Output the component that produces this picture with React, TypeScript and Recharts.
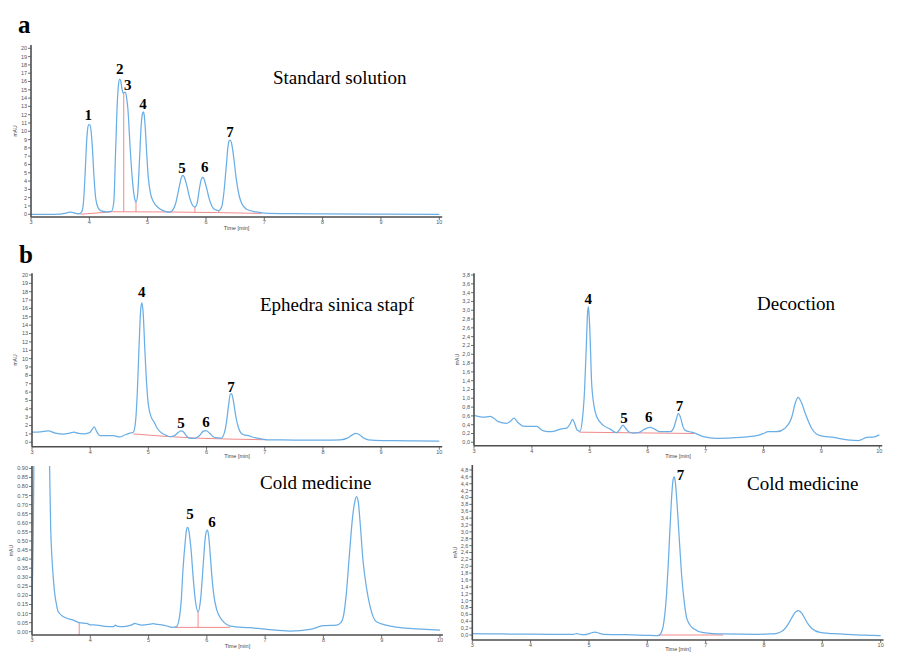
import React from 'react';
import { LineChart, Line, XAxis, YAxis, ReferenceLine, ReferenceDot } from 'recharts';

type P = [number, number];
type Drop = [number, number, number];
type PeakLabel = { t: number; v: number; text: string };

// ---------- shared axis data ----------
const xTicks = [3, 4, 5, 6, 7, 8, 9, 10];
const ticksStd = [0, 1, 2, 3, 4, 5, 6, 7, 8, 9, 10, 11, 12, 13, 14, 15, 16, 17, 18, 19, 20];
const ticksDec = [0, 0.2, 0.4, 0.6, 0.8, 1.0, 1.2, 1.4, 1.6, 1.8, 2.0, 2.2, 2.4, 2.6, 2.8, 3.0, 3.2, 3.4, 3.6, 3.8];
const ticksColdL = [0, 0.05, 0.1, 0.15, 0.2, 0.25, 0.3, 0.35, 0.4, 0.45, 0.5, 0.55, 0.6, 0.65, 0.7, 0.75, 0.8, 0.85, 0.9];
const ticksColdR = [0, 0.2, 0.4, 0.6, 0.8, 1.0, 1.2, 1.4, 1.6, 1.8, 2.0, 2.2, 2.4, 2.6, 2.8, 3.0, 3.2, 3.4, 3.6, 3.8, 4.0, 4.2, 4.4, 4.6, 4.8];

// ---------- (a) Standard solution ----------
const stdTrace: P[] = [
  [3.0, 0], [3.3, 0], [3.5, 0.02], [3.6, 0.15], [3.67, 0.25], [3.75, 0.15], [3.82, 0.05], [3.87, 0.3],
  [3.9, 1.5], [3.93, 5.2], [3.95, 8.3], [3.97, 10.2], [3.99, 10.8], [4.01, 10.75], [4.03, 10.0], [4.05, 8.3],
  [4.08, 4.5], [4.11, 1.9], [4.15, 0.8], [4.2, 0.4], [4.3, 0.3], [4.38, 0.35], [4.42, 1.5], [4.45, 7.5],
  [4.48, 13.5], [4.5, 15.6], [4.52, 16.3], [4.54, 16.0], [4.56, 15.1], [4.58, 14.6], [4.6, 14.7], [4.62, 14.7],
  [4.64, 14.0], [4.66, 12.8], [4.7, 8], [4.74, 4], [4.78, 1.8], [4.8, 1.45], [4.83, 2.5], [4.86, 6.5],
  [4.89, 10.8], [4.91, 12.1], [4.925, 12.35], [4.94, 12.0], [4.96, 10.3], [4.98, 7.8], [5.01, 4.5], [5.05, 2.5],
  [5.1, 1.5], [5.15, 1.0], [5.22, 0.6], [5.3, 0.35], [5.38, 0.25], [5.43, 0.5], [5.48, 1.3], [5.53, 2.9],
  [5.58, 4.45], [5.6, 4.7], [5.62, 4.6], [5.64, 4.25], [5.68, 3.2], [5.72, 2.0], [5.76, 1.2], [5.81, 0.85],
  [5.85, 1.4], [5.89, 3.2], [5.92, 4.2], [5.94, 4.45], [5.96, 4.35], [5.98, 3.95], [6.02, 2.9], [6.05, 2.0],
  [6.1, 1.0], [6.16, 0.55], [6.22, 0.45], [6.27, 0.9], [6.31, 2.8], [6.35, 6.0], [6.38, 8.3], [6.4, 8.9],
  [6.42, 8.9], [6.44, 8.5], [6.48, 6.6], [6.52, 4.2], [6.57, 2.2], [6.62, 1.2], [6.68, 0.7], [6.75, 0.45],
  [6.85, 0.3], [7.0, 0.15], [7.5, 0.08], [8.0, 0.05], [9.0, 0.02], [10.0, 0.0],
];
const stdBaseline: P[][] = [[[3.85, 0], [4.4, 0.3], [5.3, 0.28], [6.2, 0.2], [6.95, 0.1]]];
const stdDrops: Drop[] = [[4.59, 0.3, 14.6], [4.8, 0.28, 1.45], [5.81, 0.22, 0.85], [6.22, 0.2, 0.45]];
const stdLabels: PeakLabel[] = [
  { t: 3.98, v: 11.96, text: '1' }, { t: 4.52, v: 17.5, text: '2' }, { t: 4.66, v: 15.6, text: '3' },
  { t: 4.92, v: 13.3, text: '4' }, { t: 5.59, v: 5.6, text: '5' }, { t: 5.98, v: 5.7, text: '6' },
  { t: 6.41, v: 9.9, text: '7' },
];

// ---------- (b) Ephedra sinica stapf ----------
const ephTrace: P[] = [
  [3.0, 1.2], [3.15, 1.25], [3.28, 1.35], [3.4, 1.1], [3.54, 0.98], [3.65, 1.1], [3.72, 1.2], [3.8, 1.05],
  [3.88, 1.0], [3.99, 1.15], [4.03, 1.5], [4.07, 1.85], [4.11, 1.3], [4.17, 0.8], [4.3, 0.8], [4.4, 0.78],
  [4.51, 0.63], [4.6, 0.9], [4.68, 1.1], [4.74, 1.2], [4.78, 2.5], [4.81, 6], [4.84, 11.5], [4.87, 16],
  [4.89, 16.65], [4.91, 15.5], [4.94, 11], [4.97, 7], [5.0, 4.5], [5.05, 3.0], [5.1, 2.4], [5.15, 1.7],
  [5.2, 1.27], [5.3, 0.85], [5.38, 0.66], [5.45, 0.8], [5.5, 1.1], [5.56, 1.35], [5.6, 1.25], [5.65, 0.8],
  [5.7, 0.5], [5.8, 0.48], [5.88, 0.8], [5.94, 1.3], [5.99, 1.4], [6.05, 1.1], [6.13, 0.6], [6.25, 0.5],
  [6.3, 1.0], [6.34, 2.3], [6.38, 4.5], [6.41, 5.8], [6.43, 5.8], [6.46, 5.0], [6.5, 3.2], [6.55, 1.7],
  [6.6, 1.05], [6.66, 0.85], [6.72, 0.8], [6.8, 0.6], [6.87, 0.5], [7.04, 0.3], [7.5, 0.27], [8.0, 0.25],
  [8.3, 0.3], [8.42, 0.5], [8.5, 0.85], [8.56, 1.07], [8.63, 0.9], [8.7, 0.5], [8.78, 0.3], [9.03, 0.2],
  [9.5, 0.17], [10.0, 0.15],
];
const ephBaseline: P[][] = [[[4.74, 1.0], [5.2, 0.75], [5.8, 0.5], [6.4, 0.38], [7.04, 0.3]]];
const ephDrops: Drop[] = [];
const ephLabels: PeakLabel[] = [
  { t: 4.885, v: 17.96, text: '4' }, { t: 5.56, v: 2.28, text: '5' }, { t: 5.99, v: 2.4, text: '6' },
  { t: 6.42, v: 6.66, text: '7' },
];

// ---------- (b) Decoction ----------
const decTrace: P[] = [
  [3.0, 0.61], [3.16, 0.57], [3.28, 0.59], [3.42, 0.47], [3.56, 0.43], [3.63, 0.48], [3.69, 0.55], [3.76, 0.45],
  [3.85, 0.37], [3.97, 0.36], [4.08, 0.36], [4.2, 0.26], [4.34, 0.24], [4.49, 0.3], [4.6, 0.32], [4.66, 0.42],
  [4.7, 0.52], [4.74, 0.42], [4.78, 0.28], [4.83, 0.25], [4.87, 0.5], [4.91, 1.2], [4.94, 2.2], [4.96, 2.9],
  [4.975, 3.08], [4.99, 2.85], [5.01, 2.2], [5.03, 1.4], [5.07, 0.85], [5.12, 0.58], [5.23, 0.39], [5.35, 0.3],
  [5.46, 0.22], [5.52, 0.3], [5.57, 0.39], [5.62, 0.32], [5.67, 0.24], [5.75, 0.21], [5.84, 0.22], [5.95, 0.3],
  [6.04, 0.34], [6.12, 0.3], [6.21, 0.24], [6.39, 0.24], [6.44, 0.3], [6.49, 0.5], [6.53, 0.66], [6.57, 0.55],
  [6.61, 0.35], [6.64, 0.28], [6.72, 0.24], [6.79, 0.22], [6.96, 0.13], [7.19, 0.09], [7.59, 0.11], [7.88, 0.15],
  [8.0, 0.2], [8.08, 0.24], [8.23, 0.24], [8.37, 0.32], [8.49, 0.58], [8.55, 0.9], [8.6, 1.02], [8.65, 0.92],
  [8.72, 0.66], [8.83, 0.32], [8.98, 0.15], [9.21, 0.11], [9.49, 0.05], [9.64, 0.04], [9.78, 0.11], [9.9, 0.12],
  [10.0, 0.17],
];
const decBaseline: P[][] = [[[4.82, 0.23], [6.8, 0.2]]];
const decDrops: Drop[] = [];
const decLabels: PeakLabel[] = [
  { t: 4.974, v: 3.25, text: '4' }, { t: 5.59, v: 0.56, text: '5' }, { t: 6.02, v: 0.58, text: '6' },
  { t: 6.55, v: 0.83, text: '7' },
];

// ---------- Cold medicine (left) ----------
const coldLTrace: P[] = [
  [3.0, 0.12], [3.02, 0.5], [3.04, 1.2], [3.15, 3], [3.25, 2], [3.29, 1.2], [3.305, 0.85], [3.32, 0.58],
  [3.34, 0.42], [3.36, 0.32], [3.39, 0.21], [3.42, 0.15], [3.45, 0.11], [3.54, 0.083], [3.71, 0.064], [3.81, 0.05],
  [3.94, 0.046], [4.0, 0.038], [4.11, 0.037], [4.25, 0.03], [4.4, 0.028], [4.43, 0.037], [4.47, 0.03], [4.57, 0.028],
  [4.7, 0.036], [4.77, 0.046], [4.82, 0.04], [4.88, 0.037], [5.0, 0.04], [5.08, 0.044], [5.15, 0.04], [5.25, 0.037],
  [5.3, 0.033], [5.4, 0.024], [5.48, 0.028], [5.53, 0.08], [5.56, 0.17], [5.59, 0.34], [5.63, 0.5], [5.65, 0.56],
  [5.67, 0.575], [5.69, 0.56], [5.71, 0.51], [5.73, 0.45], [5.76, 0.32], [5.8, 0.18], [5.85, 0.11], [5.89, 0.17],
  [5.94, 0.38], [5.97, 0.51], [5.99, 0.55], [6.01, 0.56], [6.03, 0.53], [6.05, 0.46], [6.08, 0.33], [6.12, 0.2],
  [6.17, 0.12], [6.22, 0.083], [6.3, 0.05], [6.4, 0.031], [6.74, 0.022], [7.03, 0.013], [7.43, 0.004], [7.77, 0.013],
  [8.0, 0.033], [8.23, 0.037], [8.3, 0.05], [8.34, 0.08], [8.39, 0.2], [8.44, 0.4], [8.5, 0.63], [8.54, 0.72],
  [8.57, 0.744], [8.6, 0.71], [8.63, 0.6], [8.68, 0.39], [8.74, 0.24], [8.8, 0.14], [8.91, 0.055], [9.2, 0.028],
  [9.48, 0.018], [10.0, 0.009],
];
const coldLBaseline: P[][] = [[[5.45, 0.024], [6.4, 0.024]]];
const coldLDrops: Drop[] = [[3.81, -0.018, 0.05], [5.85, 0.024, 0.11]];
const coldLLabels: PeakLabel[] = [{ t: 5.71, v: 0.648, text: '5' }, { t: 6.09, v: 0.606, text: '6' }];

// ---------- Cold medicine (right) ----------
const coldRTrace: P[] = [
  [3.0, 0.04], [3.5, 0.03], [4.0, 0.025], [4.5, 0.02], [4.73, 0.02], [4.79, 0.04], [4.85, 0.02], [4.92, 0.01],
  [5.02, 0.05], [5.1, 0.087], [5.18, 0.05], [5.25, 0.02], [5.65, 0.01], [5.99, -0.01], [6.19, -0.02], [6.24, 0.08],
  [6.27, 0.24], [6.3, 0.6], [6.33, 1.2], [6.36, 2.1], [6.39, 3.15], [6.42, 4.1], [6.44, 4.5], [6.46, 4.6],
  [6.48, 4.45], [6.5, 4.05], [6.52, 3.55], [6.555, 2.6], [6.59, 1.7], [6.63, 1.0], [6.67, 0.53], [6.72, 0.32],
  [6.79, 0.19], [6.96, 0.07], [7.3, 0.03], [7.87, 0.02], [8.1, 0.03], [8.22, 0.05], [8.3, 0.1], [8.36, 0.19],
  [8.42, 0.33], [8.47, 0.48], [8.53, 0.65], [8.59, 0.71], [8.65, 0.63], [8.7, 0.48], [8.76, 0.31], [8.82, 0.19],
  [8.96, 0.08], [9.3, 0.03], [9.7, 0.0], [10.0, -0.02],
];
const coldRBaseline: P[][] = [[[6.19, 0], [7.3, 0]]];
const coldRDrops: Drop[] = [];
const coldRLabels: PeakLabel[] = [{ t: 6.57, v: 4.66, text: '7' }];

// ---------- styling ----------
const BLUE = '#6aaee6';
const RED = '#f28a8a';
const AXIS = '#4d4d4d';
const TICK_FONT = 'Liberation Sans, Arial, sans-serif';
const SERIF = 'Liberation Serif, Times New Roman, serif';

const rows = (pts: P[]) => pts.map(([t, v]) => ({ t, v }));

type ChromProps = {
  left: number; top: number; width: number; height: number;
  margin: { top: number; right: number; bottom: number; left: number };
  yWidth: number; xHeight: number; yDomain: [number, number];
  yTicks: number[]; yFmt: (v: number) => string; yLabelX: number;
  trace: P[]; baselines: P[][]; drops: Drop[]; labels: PeakLabel[];
};

function Chrom(p: ChromProps) {
  const tick = { fontSize: 5.5, fill: '#555', fontFamily: TICK_FONT };
  return (
    <div style={{ position: 'absolute', left: p.left, top: p.top, width: p.width, height: p.height }}>
      <LineChart width={p.width} height={p.height} margin={p.margin} data={rows(p.trace)}>
        <XAxis
          type="number" dataKey="t" domain={[3, 10.05]} ticks={xTicks} interval={0} allowDataOverflow
          height={p.xHeight} tickSize={3} tickMargin={0}
          axisLine={{ stroke: AXIS, strokeWidth: 1.6 }} tickLine={{ stroke: AXIS, strokeWidth: 0.8 }} tick={tick}
          label={(lp: any) => {
            const vb = lp.viewBox || {};
            return (
              <text x={vb.x + vb.width / 2} y={vb.y + vb.height / 2} dy="0.35em" textAnchor="middle"
                fontSize={5.5} fill="#444" fontFamily={TICK_FONT}>Time [min]</text>
            );
          }}
        />
        <YAxis
          type="number" domain={p.yDomain} ticks={p.yTicks} interval={0} allowDataOverflow width={p.yWidth}
          tickSize={3} tickMargin={1} tickFormatter={p.yFmt}
          axisLine={{ stroke: AXIS, strokeWidth: 1.6 }} tickLine={{ stroke: AXIS, strokeWidth: 0.8 }} tick={tick}
          label={(lp: any) => {
            const vb = lp.viewBox || {};
            const x = p.yLabelX;
            const y = vb.y + vb.height / 2;
            return (
              <text x={x} y={y} dy="0.35em" textAnchor="middle" transform={`rotate(-90, ${x}, ${y})`}
                fontSize={5} fill="#444" fontFamily={TICK_FONT}>mAU</text>
            );
          }}
        />
        {p.baselines.map((seg, i) => (
          <Line key={`b${i}`} data={rows(seg)} dataKey="v" type="linear" stroke={RED} strokeWidth={1}
            dot={false} activeDot={false} isAnimationActive={false} />
        ))}
        {p.drops.map((d, i) => (
          <ReferenceLine key={`d${i}`} segment={[{ x: d[0], y: d[1] }, { x: d[0], y: d[2] }]}
            stroke={RED} strokeWidth={1} ifOverflow="visible" />
        ))}
        <Line dataKey="v" type="monotone" stroke={BLUE} strokeWidth={1.25} dot={false} activeDot={false}
          isAnimationActive={false} />
        {p.labels.map((l, i) => (
          <ReferenceDot key={`l${i}`} x={l.t} y={l.v} r={0} fill="none" stroke="none" ifOverflow="visible"
            label={(lp: any) => {
              const vb = lp.viewBox || {};
              return (
                <text x={vb.x + (vb.width || 0) / 2} y={vb.y + (vb.height || 0) / 2} dy="0.35em" textAnchor="middle"
                  fontSize={15} fontWeight="bold" fill="#000" fontFamily={SERIF}>{l.text}</text>
              );
            }}
          />
        ))}
      </LineChart>
    </div>
  );
}

const intFmt = (v: number) => String(Math.round(v));
const comma1 = (v: number) => v.toFixed(1).replace('.', ',');
const dot2 = (v: number) => v.toFixed(2);

export default function App() {
  return (
    <div style={{ position: 'absolute', left: 0, top: 0, width: 900, height: 663, background: '#fff', overflow: 'hidden' }}>
      <Chrom left={0} top={0} width={450} height={240} margin={{ top: 45, right: 7.8, bottom: 1, left: 0 }}
        yWidth={31} xHeight={22} yDomain={[-0.33, 20.4]} yTicks={ticksStd} yFmt={intFmt} yLabelX={15}
        trace={stdTrace} baselines={stdBaseline} drops={stdDrops} labels={stdLabels} />
      <Chrom left={0} top={240} width={450} height={230} margin={{ top: 33.3, right: 7.8, bottom: 5.3, left: 0 }}
        yWidth={32} xHeight={18} yDomain={[-0.53, 20.2]} yTicks={ticksStd} yFmt={intFmt} yLabelX={15}
        trace={ephTrace} baselines={ephBaseline} drops={ephDrops} labels={ephLabels} />
      <Chrom left={440} top={240} width={460} height={230} margin={{ top: 33.3, right: 17.8, bottom: 4.3, left: 0 }}
        yWidth={34} xHeight={20} yDomain={[-0.077, 3.839]} yTicks={ticksDec} yFmt={comma1} yLabelX={17}
        trace={decTrace} baselines={decBaseline} drops={decDrops} labels={decLabels} />
      <Chrom left={0} top={460} width={450} height={203} margin={{ top: 6, right: 7.1, bottom: 6, left: 0 }}
        yWidth={32} xHeight={22} yDomain={[-0.018, 0.913]} yTicks={ticksColdL} yFmt={dot2} yLabelX={11}
        trace={coldLTrace} baselines={coldLBaseline} drops={coldLDrops} labels={coldLLabels} />
      <Chrom left={440} top={460} width={460} height={203} margin={{ top: 5, right: 16.4, bottom: 5, left: 0 }}
        yWidth={32.3} xHeight={18} yDomain={[-0.145, 4.945]} yTicks={ticksColdR} yFmt={comma1} yLabelX={15}
        trace={coldRTrace} baselines={coldRBaseline} drops={coldRDrops} labels={coldRLabels} />
      <svg width={900} height={663} style={{ position: 'absolute', left: 0, top: 0, pointerEvents: 'none' }}>
        <text x={18} y={33} fontSize={25} fontWeight="bold" fontFamily={SERIF} fill="#000">a</text>
        <text x={19} y={263} fontSize={25} fontWeight="bold" fontFamily={SERIF} fill="#000">b</text>
        <text x={273} y={84} fontSize={19} fontFamily={SERIF} fill="#000">Standard solution</text>
        <text x={260} y={311} fontSize={19} fontFamily={SERIF} fill="#000">Ephedra sinica stapf</text>
        <text x={757} y={310} fontSize={19} fontFamily={SERIF} fill="#000">Decoction</text>
        <text x={260} y={489} fontSize={19} fontFamily={SERIF} fill="#000">Cold medicine</text>
        <text x={747} y={490} fontSize={19} fontFamily={SERIF} fill="#000">Cold medicine</text>
      </svg>
    </div>
  );
}
